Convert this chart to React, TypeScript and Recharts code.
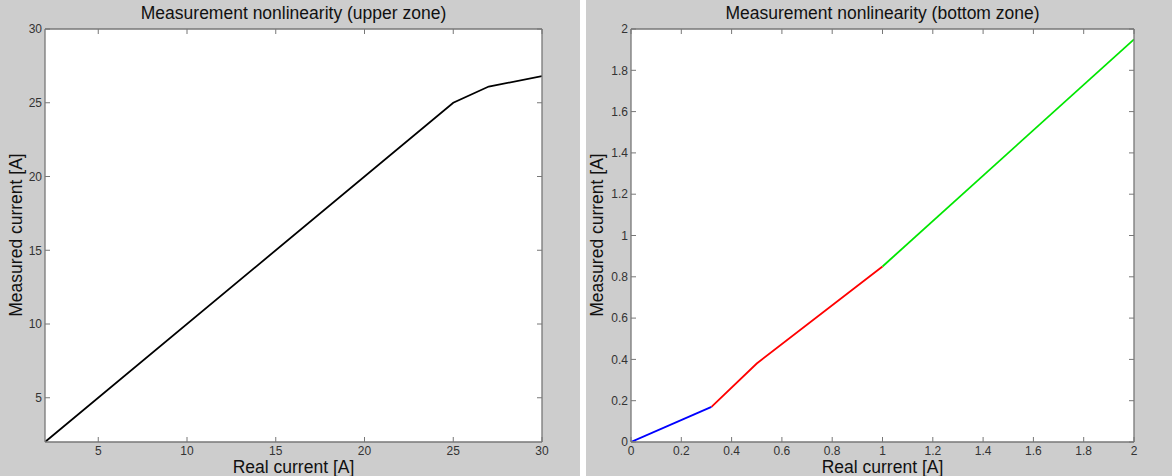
import { CartesianGrid, Line, LineChart, XAxis, YAxis } from "recharts";

// upper zone (left panel)
const upperZone = [
  { x: 2, y: 2 },
  { x: 25, y: 25 },
  { x: 27, y: 26.1 },
  { x: 30, y: 26.8 },
];
const upperTicks = [5, 10, 15, 20, 25, 30];

// bottom zone (right panel), three segments
const bottomBlue = [
  { x: 0, y: 0 },
  { x: 0.32, y: 0.17 },
];
const bottomRed = [
  { x: 0.32, y: 0.17 },
  { x: 0.5, y: 0.38 },
  { x: 1, y: 0.85 },
];
const bottomGreen = [
  { x: 1, y: 0.85 },
  { x: 2, y: 1.95 },
];
const bottomTicks = [0, 0.2, 0.4, 0.6, 0.8, 1, 1.2, 1.4, 1.6, 1.8, 2];

const BG = "#cdcdcd";
const FRAME = "#777777";
const INK = "#333333";
const FONT = "'Liberation Sans', Arial, sans-serif";
const TICK_LEN = 5;
const GAP = 4;

const textStyle: React.CSSProperties = {
  position: "absolute",
  fontFamily: FONT,
  fontSize: 17.5,
  color: "#111",
  whiteSpace: "nowrap",
  lineHeight: "20px",
};

// MATLAB-like ticks: mark drawn inwards from the axis line, label outside
function makeTick(side: "bottom" | "left" | "top" | "right") {
  return (props: any) => {
    const { x, y, payload } = props;
    const label = String(payload.value);
    if (side === "bottom") {
      const ay = y - GAP;
      return (
        <g>
          <line x1={x} x2={x} y1={ay} y2={ay - TICK_LEN} stroke={FRAME} />
          <text x={x} y={ay + 4} dy="0.71em" textAnchor="middle" fontSize={12} fill={INK} fontFamily={FONT}>
            {label}
          </text>
        </g>
      );
    }
    if (side === "left") {
      const ax = x + GAP;
      return (
        <g>
          <line x1={ax} x2={ax + TICK_LEN} y1={y} y2={y} stroke={FRAME} />
          <text x={ax - 3} y={y} dy="0.355em" textAnchor="end" fontSize={12} fill={INK} fontFamily={FONT}>
            {label}
          </text>
        </g>
      );
    }
    if (side === "top") {
      const ay = y + GAP;
      return <line x1={x} x2={x} y1={ay} y2={ay + TICK_LEN} stroke={FRAME} />;
    }
    const ax = x - GAP;
    return <line x1={ax} x2={ax - TICK_LEN} y1={y} y2={y} stroke={FRAME} />;
  };
}

function Panel({
  left,
  width,
  title,
  yLabelX,
  domain,
  ticks,
  series,
}: {
  left: number;
  width: number;
  title: string;
  yLabelX: number;
  domain: [number, number];
  ticks: number[];
  series: { data: { x: number; y: number }[]; color: string }[];
}) {
  const plotCenter = 45 + (width - 45 - 38) / 2;
  const axisLine = { stroke: FRAME, strokeWidth: 1.3 };
  return (
    <div style={{ position: "absolute", left, top: 0, width, height: 476, background: BG }}>
      <LineChart width={width} height={476} margin={{ top: 9, right: 0, left: 0, bottom: 0 }}>
        <CartesianGrid xAxisId="b" yAxisId="l" horizontal={false} vertical={false} fill="#ffffff" />
        <XAxis
          xAxisId="b"
          type="number"
          dataKey="x"
          domain={domain}
          ticks={ticks}
          allowDataOverflow
          height={34}
          tickLine={false}
          tickSize={0}
          tickMargin={GAP}
          tick={makeTick("bottom")}
          axisLine={axisLine}
        />
        <XAxis
          xAxisId="t"
          orientation="top"
          type="number"
          dataKey="x"
          domain={domain}
          ticks={ticks}
          allowDataOverflow
          height={20}
          tickLine={false}
          tickSize={0}
          tickMargin={GAP}
          tick={makeTick("top")}
          axisLine={axisLine}
        />
        <YAxis
          yAxisId="l"
          type="number"
          domain={domain}
          ticks={ticks}
          allowDataOverflow
          width={45}
          tickLine={false}
          tickSize={0}
          tickMargin={GAP}
          tick={makeTick("left")}
          axisLine={axisLine}
        />
        <YAxis
          yAxisId="r"
          orientation="right"
          type="number"
          domain={domain}
          ticks={ticks}
          allowDataOverflow
          width={38}
          tickLine={false}
          tickSize={0}
          tickMargin={GAP}
          tick={makeTick("right")}
          axisLine={axisLine}
        />
        {series.map((s, i) => (
          <Line
            key={i}
            xAxisId="b"
            yAxisId="l"
            data={s.data}
            dataKey="y"
            type="linear"
            stroke={s.color}
            strokeWidth={1.8}
            dot={false}
            activeDot={false}
            isAnimationActive={false}
          />
        ))}
      </LineChart>
      <div style={{ ...textStyle, left: plotCenter, top: 3, transform: "translateX(-50%)" }}>{title}</div>
      <div style={{ ...textStyle, left: plotCenter, top: 457, transform: "translateX(-50%)" }}>
        Real current [A]
      </div>
      <div
        style={{
          ...textStyle,
          left: yLabelX,
          top: 235,
          transform: "translate(-50%, -50%) rotate(-90deg)",
        }}
      >
        Measured current [A]
      </div>
    </div>
  );
}

export default function App() {
  return (
    <div style={{ position: "absolute", left: 0, top: 0, width: 1172, height: 476, background: "#fff" }}>
      <Panel
        left={0}
        width={580}
        title="Measurement nonlinearity (upper zone)"
        yLabelX={16}
        domain={[2, 30]}
        ticks={upperTicks}
        series={[{ data: upperZone, color: "#000000" }]}
      />
      <Panel
        left={586}
        width={586}
        title="Measurement nonlinearity (bottom zone)"
        yLabelX={11}
        domain={[0, 2]}
        ticks={bottomTicks}
        series={[
          { data: bottomBlue, color: "#0000ff" },
          { data: bottomRed, color: "#ff0000" },
          { data: bottomGreen, color: "#00e600" },
        ]}
      />
    </div>
  );
}
